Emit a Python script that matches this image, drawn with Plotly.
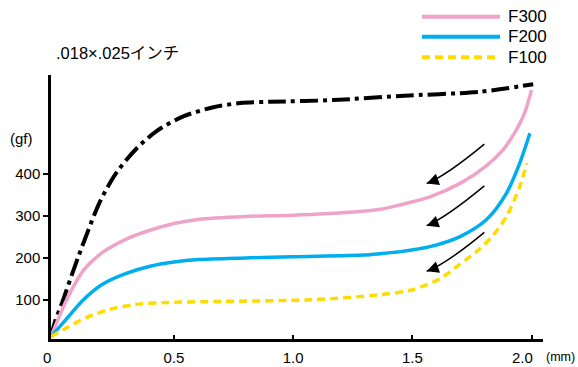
import plotly.graph_objects as go

# ---- data ----
x_black = [-0.016, 0.001, 0.03, 0.10, 0.19, 0.26, 0.344, 0.427, 0.539, 0.665, 0.777, 0.903, 1.167, 1.448, 1.784, 2.007]
y_black = [12, 48, 92, 205, 335, 405, 462, 503, 538, 560, 570, 573, 577, 587, 597, 615]

x_f300 = [-0.016, 0.05, 0.12, 0.2, 0.3, 0.4, 0.5, 0.6, 0.8, 1.0, 1.24, 1.364, 1.45, 1.574, 1.70, 1.81, 1.88, 1.93, 1.97, 2.0]
y_f300 = [12, 100, 170, 213, 245, 266, 282, 292, 299, 302, 309, 316, 327, 346, 378, 420, 458, 500, 545, 601]

x_f200 = [-0.016, 0.05, 0.12, 0.2, 0.3, 0.4, 0.5, 0.6, 0.8, 1.0, 1.3, 1.364, 1.45, 1.574, 1.70, 1.81, 1.895, 1.95, 1.993]
y_f200 = [12, 55, 100, 137, 163, 180, 190, 196, 200, 203, 207, 210, 215, 227, 251, 291, 355, 426, 498]

x_f100 = [-0.016, 0.05, 0.13, 0.23, 0.33, 0.45, 0.70, 1.075, 1.365, 1.50, 1.615, 1.70, 1.78, 1.84, 1.895, 1.95, 1.98]
y_f100 = [12, 33, 57, 77, 88, 93, 96, 100, 112, 124, 150, 185, 220, 255, 299, 370, 426]

x_tick_vals = [0.5, 1.0, 1.5, 2.0]
x_tick_text = ["0.5", "1.0", "1.5", "2.0"]
y_tick_vals = [100, 200, 300, 400]
y_tick_text = ["100", "200", "300", "400"]

series_names = ["F300", "F200", "F100"]
series_colors = ["#F0A3C8", "#00AEEF", "#FFDC00"]
series_dash = ["solid", "solid", "8px,5px"]

# arrows: (start, control, end) in data units
arrows = [
    ((1.802, 472), (1.638, 395), (1.560, 378)),
    ((1.802, 372), (1.638, 295), (1.560, 277)),
    ((1.802, 261), (1.638, 184), (1.560, 168)),
]

title_text = ".018×.025インチ"

# ---- layout geometry ----
W, H = 578, 367
ML, MR, MT, MB = 51, 35, 75, 28
XR = [-0.016, 2.048]
YR = [6.2, 637]
PW = W - ML - MR
PH = H - MT - MB


def px_to_paper(px, py):
    return (px - ML) / PW, (H - MB - py) / PH


FONT = "Liberation Sans, Arial, Noto Sans CJK JP, sans-serif"

fig = go.Figure()

fig.add_trace(go.Scatter(x=x_black, y=y_black, mode="lines",
                         line=dict(color="black", width=4, dash="18px,5px,4px,5px", shape="spline", smoothing=0.8),
                         showlegend=False, hoverinfo="skip"))
for xs, ys, name, c, d in zip([x_f300, x_f200, x_f100], [y_f300, y_f200, y_f100], series_names, series_colors, series_dash):
    fig.add_trace(go.Scatter(x=xs, y=ys, mode="lines", name=name,
                             line=dict(color=c, width=3.5, dash=d, shape="spline", smoothing=0.8),
                             showlegend=False))

shapes = []
annotations = []
for (p0, c, p2) in arrows:
    shapes.append(dict(type="path", xref="x", yref="y",
                       path=f"M {p0[0]},{p0[1]} Q {c[0]},{c[1]} {p2[0]},{p2[1]}",
                       line=dict(color="black", width=1.5)))
    annotations.append(dict(x=p2[0], y=p2[1], xref="x", yref="y", ax=11, ay=-4, text="",
                            showarrow=True, arrowhead=2, arrowsize=1.6, arrowwidth=1.5,
                            arrowcolor="black", standoff=0))

# manual legend
legend_rows_py = [16.7, 36.7, 57.3]
for name, c, d, py in zip(series_names, series_colors, series_dash, legend_rows_py):
    x0, y0 = px_to_paper(422, py)
    x1, _ = px_to_paper(500, py)
    shapes.append(dict(type="line", xref="paper", yref="paper", x0=x0, x1=x1, y0=y0, y1=y0,
                       line=dict(color=c, width=4, dash=d)))
    tx, ty = px_to_paper(506, py)
    annotations.append(dict(x=tx, y=ty, xref="paper", yref="paper", text=name, showarrow=False,
                            xanchor="left", yanchor="middle",
                            font=dict(family=FONT, size=17, color="black")))

# title, units, origin label, last x label (shifted left of its tick as in the reference)
tx, ty = px_to_paper(54, 52.7)
annotations.append(dict(x=tx, y=ty, xref="paper", yref="paper", text=title_text, showarrow=False,
                        xanchor="left", yanchor="middle", font=dict(family=FONT, size=16.5, color="black")))
tx, ty = px_to_paper(35, 138.3)
annotations.append(dict(x=tx, y=ty, xref="paper", yref="paper", text="(gf)", showarrow=False,
                        xanchor="right", yanchor="middle", font=dict(family=FONT, size=15, color="black")))
tx, ty = px_to_paper(577, 357)
annotations.append(dict(x=tx, y=ty, xref="paper", yref="paper", text="(mm)", showarrow=False,
                        xanchor="right", yanchor="middle", font=dict(family=FONT, size=12.5, color="black")))
tx, ty = px_to_paper(47.3, 357)
annotations.append(dict(x=tx, y=ty, xref="paper", yref="paper", text="0", showarrow=False,
                        xanchor="center", yanchor="middle", font=dict(family=FONT, size=15, color="black")))
annotations.append(dict(x=x_tick_vals[-1], y=0, xref="x", yref="paper", text=x_tick_text[-1], showarrow=False,
                        xanchor="center", yanchor="middle", xshift=-9, yshift=-18,
                        font=dict(family=FONT, size=15, color="black")))

axis_tick_text = x_tick_text[:-1] + [""]

fig.update_layout(
    template="none",
    width=W, height=H,
    margin=dict(l=ML, r=MR, t=MT, b=MB, pad=0),
    paper_bgcolor="white", plot_bgcolor="white",
    font=dict(family=FONT, size=15, color="black"),
    shapes=shapes, annotations=annotations,
    showlegend=False,
)
fig.update_xaxes(range=XR, automargin=False, showline=True, linecolor="black", linewidth=2.5, showgrid=False, zeroline=False,
                 tickvals=x_tick_vals, ticktext=axis_tick_text, ticks="inside", ticklen=4, tickwidth=2,
                 tickcolor="black", ticklabelstandoff=3, tickfont=dict(size=15))
fig.update_yaxes(range=YR, automargin=False, showline=True, linecolor="black", linewidth=2.5, showgrid=False, zeroline=False,
                 tickvals=y_tick_vals, ticktext=y_tick_text, ticks="outside", ticklen=5, tickwidth=2,
                 tickcolor="black", tickfont=dict(size=15))

fig.write_html("out.html", config={"displayModeBar": False},
               post_script="document.body.style.margin='0';document.body.style.overflow='hidden';")
